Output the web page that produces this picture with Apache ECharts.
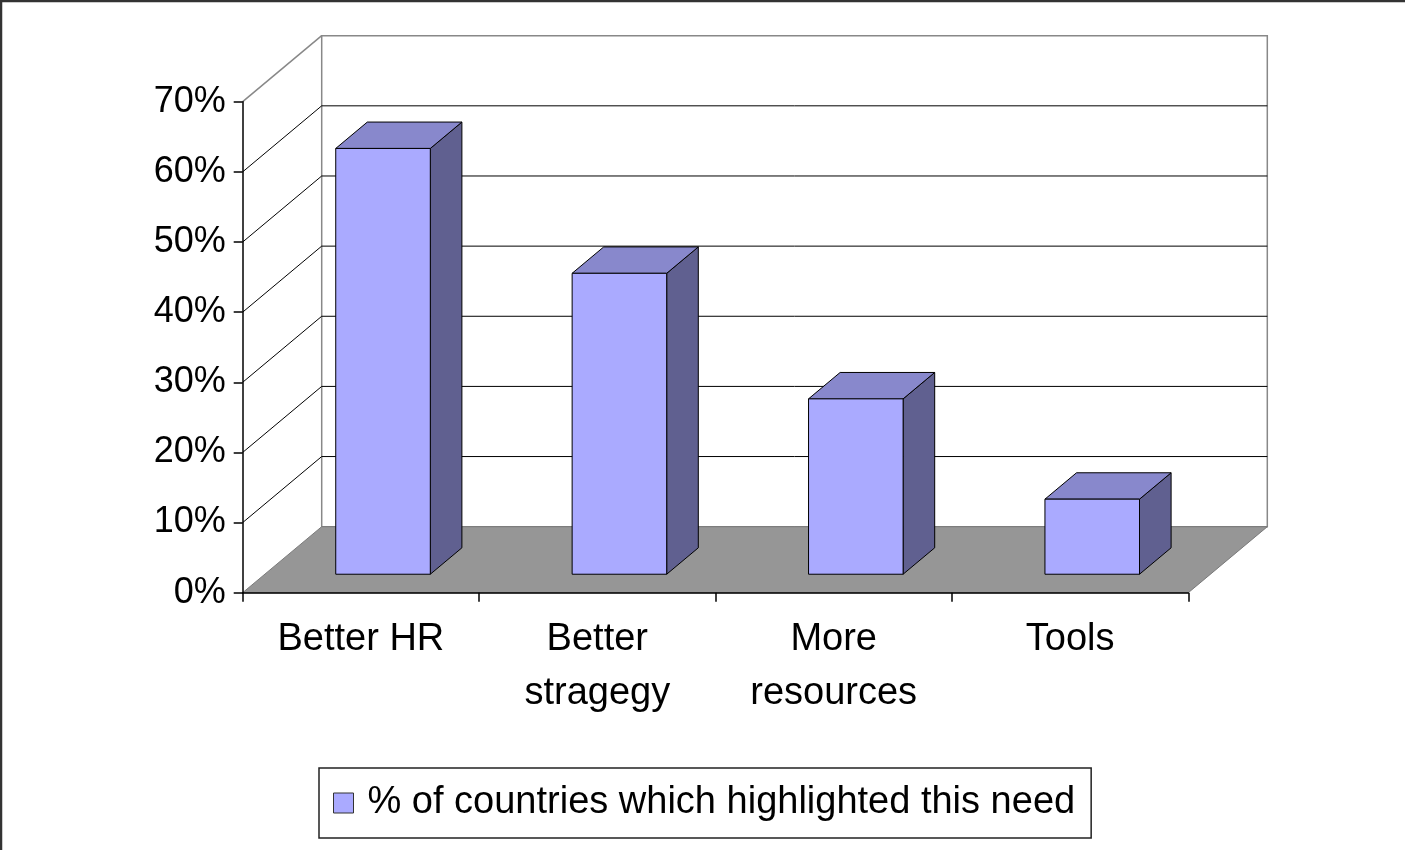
<!DOCTYPE html>
<html>
<head>
<meta charset="utf-8">
<title>Needs highlighted by countries</title>
<script src="https://cdn.jsdelivr.net/npm/echarts@6/dist/echarts.min.js"></script>
<style>
  html, body { margin: 0; padding: 0; background: #ffffff; }
  #chart { width: 1405px; height: 850px; }
</style>
</head>
<body>
<div id="chart"></div>
<script>
// ---- data ----
const categories = ['Better HR', 'Better\nstragegy', 'More\nresources', 'Tools'];
const shares = [60.7, 42.9, 25.0, 10.7];          // percent of countries
const yTicks = [0, 10, 20, 30, 40, 50, 60, 70];   // percent
const seriesName = '% of countries which highlighted this need';

// ---- 3D look: depth vector of the chart box and of the bars ----
const DEPTH_X = 79, DEPTH_Y = -66;
const BAR_FRONT = 0.28;   // bar front face, as fraction of box depth
const BAR_DEPTH = 0.40;   // bar thickness, as fraction of box depth
const BAR_WIDTH = 0.40;   // bar width, as fraction of a category band

const FONT = '"Liberation Sans", Arial, sans-serif';
const GRID_GRAY = '#888888';

const chart = echarts.init(document.getElementById('chart'), null, { renderer: 'canvas' });

// walls, floor and gridlines, one item per tick value
function renderFrame(params, api) {
  const cs = params.coordSys;
  const L = cs.x, R = cs.x + cs.width;
  const v = api.value(1);
  const y = api.coord([0, v])[1];
  const children = [];
  if (v === 0) {
    const yTop = api.coord([0, yTicks[yTicks.length - 1]])[1];
    // back wall
    children.push({
      type: 'rect',
      shape: { x: L + DEPTH_X, y: yTop + DEPTH_Y, width: R - L, height: y - yTop },
      style: { fill: '#ffffff', stroke: GRID_GRAY, lineWidth: 1.5 }
    });
    // floor
    children.push({
      type: 'polygon',
      shape: { points: [[L, y], [R, y], [R + DEPTH_X, y + DEPTH_Y], [L + DEPTH_X, y + DEPTH_Y]] },
      style: { fill: '#969696', stroke: '#7a7a7a', lineWidth: 1 }
    });
  } else {
    const isTop = v === yTicks[yTicks.length - 1];
    const color = isTop ? GRID_GRAY : '#000000';
    // side wall line
    children.push({
      type: 'line',
      shape: { x1: L, y1: y, x2: L + DEPTH_X, y2: y + DEPTH_Y },
      style: { stroke: color, lineWidth: isTop ? 1.5 : 1 }
    });
    // back wall line
    if (!isTop) {
      children.push({
        type: 'line',
        shape: { x1: L + DEPTH_X, y1: y + DEPTH_Y, x2: R + DEPTH_X, y2: y + DEPTH_Y },
        style: { stroke: '#000000', lineWidth: 1 }
      });
    }
  }
  return { type: 'group', children: children };
}

// one 3D box per category
function renderBar(params, api) {
  const idx = api.value(0);
  const top = api.coord([idx, api.value(1)]);
  const base = api.coord([idx, 0]);
  const w = api.size([1, 0])[0] * BAR_WIDTH;
  const fx = BAR_FRONT * DEPTH_X, fy = BAR_FRONT * DEPTH_Y;
  const bx = BAR_DEPTH * DEPTH_X, by = BAR_DEPTH * DEPTH_Y;
  const l = top[0] - w / 2 + fx, r = l + w;
  const t = top[1] + fy, b = base[1] + fy;
  const edge = { stroke: '#000000', lineWidth: 1 };
  return {
    type: 'group',
    children: [
      { type: 'polygon',
        shape: { points: [[r, t], [r + bx, t + by], [r + bx, b + by], [r, b]] },
        style: Object.assign({ fill: '#606090' }, edge) },
      { type: 'polygon',
        shape: { points: [[l, t], [l + bx, t + by], [r + bx, t + by], [r, t]] },
        style: Object.assign({ fill: '#8888cc' }, edge) },
      { type: 'rect',
        shape: { x: l, y: t, width: w, height: b - t },
        style: Object.assign({ fill: api.visual('color') }, edge) }
    ]
  };
}

chart.setOption({
  animation: false,
  backgroundColor: '#ffffff',
  textStyle: { fontFamily: FONT, color: '#000000' },
  grid: { left: 242.7, right: 216.7, top: 101.7, bottom: 257.3, containLabel: false },
  xAxis: {
    type: 'category',
    data: categories,
    boundaryGap: true,
    z: 10,
    axisLine: { show: true, lineStyle: { color: '#000000', width: 1.5 } },
    axisTick: { show: true, length: 9, alignWithLabel: false, lineStyle: { color: '#000000', width: 1.5 } },
    axisLabel: { fontSize: 38, lineHeight: 54, color: '#000000', margin: 20, fontFamily: FONT, interval: 0 },
    splitLine: { show: false }
  },
  yAxis: {
    type: 'value',
    min: 0, max: 70, interval: 10,
    z: 10,
    axisLine: { show: true, lineStyle: { color: '#000000', width: 1.5 } },
    axisTick: { show: true, length: 9, lineStyle: { color: '#000000', width: 1.5 } },
    axisLabel: { fontSize: 36, color: '#000000', margin: 17, fontFamily: FONT, formatter: '{value}%' },
    splitLine: { show: false }
  },
  legend: {
    data: [{ name: seriesName, icon: 'rect' }],
    left: 319, top: 768,
    padding: [15, 16, 15, 14],
    itemWidth: 20, itemHeight: 20, itemGap: 14,
    borderColor: '#222222', borderWidth: 1.5,
    backgroundColor: '#ffffff',
    itemStyle: { borderColor: '#333333', borderWidth: 1 },
    textStyle: { fontSize: 38, lineHeight: 40, color: '#000000', fontFamily: FONT, padding: [0, 0, 0, 9] },
    selectedMode: false
  },
  series: [
    {
      name: 'frame',
      type: 'custom',
      renderItem: renderFrame,
      data: yTicks.map(v => [0, v]),
      silent: true,
      z: 1
    },
    {
      name: seriesName,
      type: 'custom',
      renderItem: renderBar,
      itemStyle: { color: '#aaaaff' },
      data: shares.map((v, i) => [i, v]),
      z: 3
    }
  ],
  graphic: [
    { type: 'line', shape: { x1: 0, y1: 1, x2: 1405, y2: 1 }, style: { stroke: '#333333', lineWidth: 2.5 } },
    { type: 'line', shape: { x1: 1, y1: 0, x2: 1, y2: 850 }, style: { stroke: '#333333', lineWidth: 2.5 } }
  ]
});
</script>
</body>
</html>
